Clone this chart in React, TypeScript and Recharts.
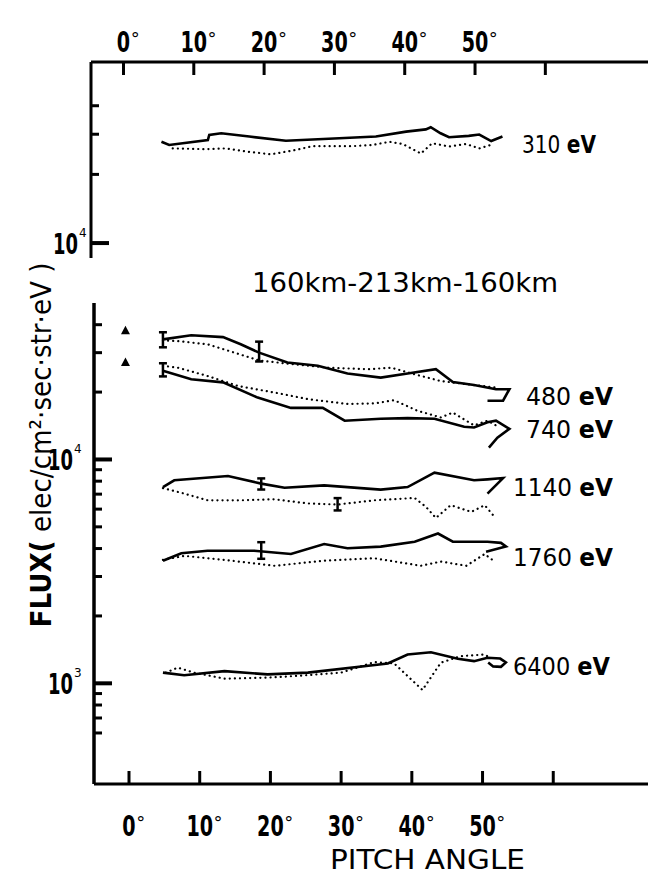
import { ComposedChart, Line, Scatter, XAxis, YAxis, ErrorBar } from "recharts";

const FONT = "'DejaVu Sans', 'Liberation Sans', sans-serif";

// pitch angle (deg), flux (elec/cm2 sec str eV)
const flux310Solid = [
  [5.4, 27800], [6.5, 26900], [12.0, 28300], [12.2, 29800], [13.9, 30300], [17.9, 29300],
  [23.1, 28100], [30.7, 28800], [35.9, 29300], [40.2, 30800], [43.0, 31500], [43.7, 32200],
  [45.1, 30300], [46.3, 29100], [49.1, 29500], [50.6, 29900], [52.3, 28000], [53.9, 29300],
];
const flux310Dotted = [
  [7.0, 26000], [11.7, 25800], [14.6, 26000], [17.9, 25100], [21.0, 24500], [24.5, 25600],
  [26.9, 26600], [32.6, 26600], [35.4, 26900], [37.8, 27800], [39.7, 27200], [42.3, 24700],
  [43.9, 27400], [46.3, 26500], [48.7, 27200], [50.6, 26000], [52.2, 26900],
];
const flux480Solid = [
  [4.8, 34400], [8.8, 35900], [13.3, 35200], [15.8, 32700], [18.4, 30000], [22.4, 27100],
  [26.7, 26200], [30.9, 24200], [35.6, 23200], [39.4, 24200], [43.4, 25300], [45.8, 22200],
  [48.8, 21500], [51.9, 20600], [53.8, 20600], [52.9, 18300], [50.7, 18300],
];
const flux480Dotted = [
  [4.8, 34000], [6.9, 33800], [11.1, 32700], [14.9, 30000], [18.4, 27700], [22.4, 26800],
  [28.1, 25700], [33.8, 25300], [37.1, 25700], [40.4, 24000], [44.1, 22400], [48.8, 21500],
  [51.7, 21000],
];
const flux740Solid = [
  [4.8, 24900], [8.8, 22800], [13.3, 22100], [18.2, 18900], [22.9, 17000], [27.4, 17000],
  [30.5, 14900], [35.6, 15200], [39.4, 15300], [43.2, 15200], [47.4, 14000], [48.8, 13900],
  [50.7, 14650], [51.9, 14900], [53.8, 13700], [52.1, 12500], [50.9, 11300],
];
const flux740Dotted = [
  [4.8, 26200], [6.9, 25700], [11.1, 23600], [15.4, 21300], [20.6, 19900], [25.3, 18600],
  [30.9, 17700], [34.7, 17800], [37.5, 18400], [40.8, 16500], [44.1, 15400], [45.8, 16200],
  [48.8, 14200], [50.7, 14900], [51.9, 14200],
];
const flux1140Solid = [
  [4.8, 7530], [6.4, 8070], [14.0, 8430], [18.7, 7800], [22.0, 7480], [27.6, 7660],
  [35.6, 7330], [39.4, 7530], [43.2, 8730], [48.8, 8070], [50.7, 8150], [52.9, 8260],
  [50.7, 7040],
];
const flux1140Dotted = [
  [4.8, 7450], [7.8, 7040], [11.1, 6570], [15.8, 6570], [20.6, 6640], [25.3, 6360],
  [29.5, 6290], [34.7, 6570], [40.4, 6730], [42.0, 6140], [43.4, 5480], [45.5, 6250],
  [48.4, 5830], [50.3, 6250], [51.7, 5540],
];
const flux1760Solid = [
  [4.8, 3530], [7.4, 3810], [11.1, 3910], [17.7, 3910], [22.9, 3780], [27.6, 4190],
  [30.9, 4010], [35.6, 4080], [40.4, 4290], [43.7, 4670], [45.8, 4290], [50.7, 4290],
  [52.6, 4240], [53.3, 4090], [50.5, 3870],
];
const flux1760Dotted = [
  [4.8, 3560], [7.8, 3710], [13.5, 3560], [20.6, 3350], [27.6, 3530], [34.7, 3620],
  [41.3, 3350], [44.1, 3500], [47.7, 3350], [50.3, 3780], [51.4, 3560],
];
const flux6400Solid = [
  [4.8, 1116], [7.8, 1086], [13.5, 1134], [19.6, 1096], [25.3, 1116], [36.6, 1227],
  [39.4, 1345], [42.7, 1377], [46.5, 1288], [48.8, 1256], [50.7, 1301], [52.5, 1290],
  [53.3, 1240], [52.6, 1185], [51.5, 1190], [50.8, 1240],
];
const flux6400Dotted = [
  [5.2, 1116], [6.9, 1175], [9.2, 1116], [13.5, 1049], [19.6, 1060], [23.9, 1080],
  [30.0, 1116], [34.7, 1244], [37.5, 1227], [41.5, 934], [44.1, 1236], [46.9, 1322],
  [50.3, 1345], [51.0, 1301],
];

// error bars
const errAngle = [4.8, 18.4, 4.8, 18.7, 29.5, 18.7];
const errFlux = [34400, 30000, 24900, 7800, 6290, 3910];
const errLow = [2700, 2600, 1400, 460, 370, 310];
const errHigh = [2600, 3600, 2000, 430, 430, 360];

// triangles at 0 deg
const triAngle = [-0.5, -0.5];
const triFlux = [37600, 27100];

const angleTicks = [0, 10, 20, 30, 40, 50, 60];
const lastLabeledAngle = 50;
const topFluxTicks = [10000, 20000, 30000, 40000];
const bottomFluxTicks = [
  600, 700, 800, 900, 1000, 2000, 3000, 4000, 5000, 6000, 7000, 8000, 9000, 10000, 20000, 30000, 40000,
];
const title = "160km-213km-160km";
const xTitle = "PITCH ANGLE";

const pts = (a: number[][]) => a.map(([x, y]) => ({ x, y }));
const errPts = errAngle.map((x, i) => ({ x, y: errFlux[i], err: [errLow[i], errHigh[i]] }));
const triPts = triAngle.map((x, i) => ({ x, y: triFlux[i] }));

// condensed lettering like the original stencil
const SQUEEZE = 0.66;
const txt = (size: number, weight = "normal") => ({ fontSize: size, fontFamily: FONT, fontWeight: weight });

const DegLabel = ({ x, y, v }: any) => {
  const s = String(v);
  const half = (s.length * 0.696 * 29 * SQUEEZE) / 2;
  return (
    <g>
      <text transform={`translate(${x} ${y}) scale(${SQUEEZE} 1)`} textAnchor="middle" style={txt(29, "bold")}>
        {s}
      </text>
      <text x={x + half + 0.5} y={y - 7} style={txt(18)}>°</text>
    </g>
  );
};

const TopXTick = (props: any) => {
  const { x, y, payload } = props;
  return (
    <g>
      <line x1={x} y1={y} x2={x} y2={y + 13} stroke="#000" strokeWidth={3} />
      {payload.value <= lastLabeledAngle && <DegLabel x={x} y={y - 10} v={payload.value} />}
    </g>
  );
};

const BottomXTick = (props: any) => {
  const { x, y, payload } = props;
  return (
    <g>
      <line x1={x} y1={y} x2={x} y2={y - 13} stroke="#000" strokeWidth={3} />
      {payload.value <= lastLabeledAngle && <DegLabel x={x} y={y + 52} v={payload.value} />}
    </g>
  );
};

const makeYTick = (labelOffset: number) => (props: any) => {
  const { x, y, payload } = props;
  const v = payload.value;
  const exp = Math.log10(v);
  const major = Math.abs(exp - Math.round(exp)) < 1e-6;
  return (
    <g>
      <line x1={x} y1={y} x2={x + (major ? 18 : 8)} y2={y} stroke="#000" strokeWidth={major ? 4 : 3} />
      {major && (
        <g>
          <text transform={`translate(${x - labelOffset} ${y + 11}) scale(0.62 1)`} style={txt(29, "bold")}>
            10
          </text>
          <text x={x - labelOffset + 26} y={y - 6} style={txt(12)}>
            {Math.round(exp)}
          </text>
        </g>
      )}
    </g>
  );
};
const TopYTick = makeYTick(38);
const BottomYTick = makeYTick(46);

const solid = (data: number[][], key: string) => (
  <Line key={key} data={pts(data)} dataKey="y" type="linear" stroke="#000" strokeWidth={2.6} dot={false} isAnimationActive={false} />
);
const dotted = (data: number[][], key: string) => (
  <Line
    key={key}
    data={pts(data)}
    dataKey="y"
    type="linear"
    stroke="#000"
    strokeWidth={2.2}
    strokeLinecap="round"
    strokeDasharray="0.1 5"
    dot={false}
    isAnimationActive={false}
  />
);

const Triangle = (p: any) => (
  <polygon points={`${p.cx},${p.cy - 5} ${p.cx - 4.5},${p.cy + 3.5} ${p.cx + 4.5},${p.cy + 3.5}`} fill="#000" />
);

const energyLabel = (t: string, x: number, y: number, len: number, size: number) => (
  <text x={x} y={y} style={txt(size)} textLength={len} lengthAdjust="spacingAndGlyphs">
    {t} <tspan fontWeight="bold">eV</tspan>
  </text>
);

export default function App() {
  return (
    <div style={{ position: "absolute", left: 0, top: 0, width: 648, height: 877, background: "#fff" }}>
      <div style={{ position: "absolute", left: 0, top: 0 }}>
        <ComposedChart width={648} height={262} margin={{ top: 61, right: 0, bottom: 4, left: 90 }}>
          <XAxis
            dataKey="x"
            type="number"
            orientation="top"
            domain={[-4.62, 74.6]}
            allowDataOverflow
            ticks={angleTicks}
            interval={0}
            height={1}
            tickSize={0}
            tickMargin={0}
            tickLine={false}
            tick={<TopXTick />}
            axisLine={{ stroke: "#000", strokeWidth: 3 }}
          />
          <YAxis
            type="number"
            scale="log"
            domain={[8600, 62200]}
            allowDataOverflow
            ticks={topFluxTicks}
            interval={0}
            width={1}
            tickSize={0}
            tickMargin={0}
            tickLine={false}
            tick={<TopYTick />}
            axisLine={{ stroke: "#000", strokeWidth: 3 }}
          />
          {solid(flux310Solid, "s310")}
          {dotted(flux310Dotted, "d310")}
        </ComposedChart>
      </div>
      <div style={{ position: "absolute", left: 0, top: 0 }}>
        <ComposedChart width={648} height={877} margin={{ top: 303, right: 0, bottom: 92, left: 93 }}>
          <XAxis
            dataKey="x"
            type="number"
            orientation="bottom"
            domain={[-4.95, 73.4]}
            allowDataOverflow
            ticks={angleTicks}
            interval={0}
            height={1}
            tickSize={0}
            tickMargin={0}
            tickLine={false}
            tick={<BottomXTick />}
            axisLine={{ stroke: "#000", strokeWidth: 3 }}
          />
          <YAxis
            type="number"
            scale="log"
            domain={[355, 50000]}
            allowDataOverflow
            ticks={bottomFluxTicks}
            interval={0}
            width={1}
            tickSize={0}
            tickMargin={0}
            tickLine={false}
            tick={<BottomYTick />}
            axisLine={{ stroke: "#000", strokeWidth: 3.5 }}
          />
          {solid(flux480Solid, "s480")}
          {dotted(flux480Dotted, "d480")}
          {solid(flux740Solid, "s740")}
          {dotted(flux740Dotted, "d740")}
          {solid(flux1140Solid, "s1140")}
          {dotted(flux1140Dotted, "d1140")}
          {solid(flux1760Solid, "s1760")}
          {dotted(flux1760Dotted, "d1760")}
          {solid(flux6400Solid, "s6400")}
          {dotted(flux6400Dotted, "d6400")}
          <Scatter data={errPts} dataKey="y" shape={() => <g />} isAnimationActive={false}>
            <ErrorBar dataKey="err" direction="y" width={4} stroke="#000" strokeWidth={2.5} />
          </Scatter>
          <Scatter data={triPts} dataKey="y" shape={<Triangle />} isAnimationActive={false} />
        </ComposedChart>
      </div>
      <svg width={648} height={877} style={{ position: "absolute", left: 0, top: 0, pointerEvents: "none" }}>
        {energyLabel("310", 522, 153, 74, 24)}
        {energyLabel("480", 526, 405, 87, 25)}
        {energyLabel("740", 526, 438, 87, 25)}
        {energyLabel("1140", 513, 496, 100, 25)}
        {energyLabel("1760", 513, 566, 100, 25)}
        {energyLabel("6400", 513, 675, 97, 25)}
        <text x={252} y={292} style={txt(27)} textLength={306} lengthAdjust="spacingAndGlyphs">
          {title}
        </text>
        <text x={330} y={869} style={txt(26)} textLength={195} lengthAdjust="spacingAndGlyphs">
          {xTitle}
        </text>
        <text
          transform="translate(51, 445) rotate(-90)"
          textAnchor="middle"
          style={txt(29)}
          textLength={365}
          lengthAdjust="spacingAndGlyphs"
        >
          <tspan fontWeight="bold">FLUX(</tspan> elec/cm²·sec·str·eV )
        </text>
      </svg>
    </div>
  );
}
